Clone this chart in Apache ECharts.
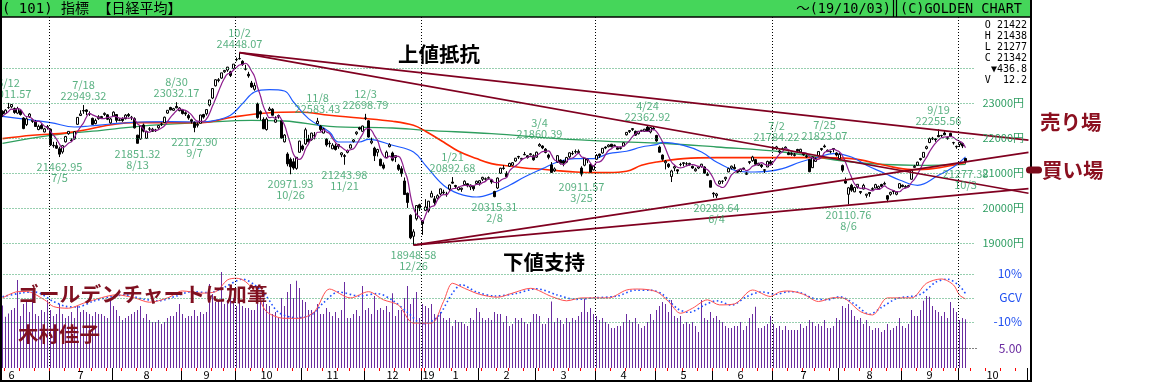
<!DOCTYPE html>
<html><head><meta charset="utf-8">
<script src="https://cdn.jsdelivr.net/npm/echarts/dist/echarts.min.js"></script>
<style>html,body{margin:0;padding:0;background:#fff}#c{width:1154px;height:387px}</style>
</head><body><div id="c"></div>
<script>
// ---------- DATA ----------
const monthDays = [
 ['2018-06',[8,11,12,13,14,15,18,19,20,21,22,25,26,27,28,29]],
 ['2018-07',[2,3,4,5,6,9,10,11,12,13,17,18,19,20,23,24,25,26,27,30,31]],
 ['2018-08',[1,2,3,6,7,8,9,10,13,14,15,16,17,20,21,22,23,24,27,28,29,30,31]],
 ['2018-09',[3,4,5,6,7,10,11,12,13,14,18,19,20,21,25,26,27,28]],
 ['2018-10',[1,2,3,4,5,9,10,11,12,15,16,17,18,19,22,23,24,25,26,29,30,31]],
 ['2018-11',[1,2,5,6,7,8,9,12,13,14,15,16,19,20,21,22,26,27,28,29,30]],
 ['2018-12',[3,4,5,6,7,10,11,12,13,14,17,18,19,20,21,25,26,27,28]],
 ['2019-01',[4,7,8,9,10,11,15,16,17,18,21,22,23,24,25,28,29,30,31]],
 ['2019-02',[1,4,5,6,7,8,12,13,14,15,18,19,20,21,22,25,26,27,28]],
 ['2019-03',[1,4,5,6,7,8,11,12,13,14,15,18,19,20,22,25,26,27,28,29]],
 ['2019-04',[1,2,3,4,5,8,9,10,11,12,15,16,17,18,19,22,23,24,25,26]],
 ['2019-05',[7,8,9,10,13,14,15,16,17,20,21,22,23,24,27,28,29,30,31]],
 ['2019-06',[3,4,5,6,7,10,11,12,13,14,17,18,19,20,21,24,25,26,27,28]],
 ['2019-07',[1,2,3,4,5,8,9,10,11,12,16,17,18,19,22,23,24,25,26,29,30,31]],
 ['2019-08',[1,2,5,6,7,8,9,13,14,15,16,19,20,21,22,23,26,27,28,29,30]],
 ['2019-09',[2,3,4,5,6,9,10,11,12,13,17,18,19,20,24,25,26,27,30]],
 ['2019-10',[1,2,3,4,7,8,9,10,11,14,15,16,17,18,21,22,23,24,25,28,29,30,31]],
 ['2019-11',[1]]
];
const open = [
 22770,22710,22880,22900,22850,22720,22790,22580,22390,22620,22480,22480,22250,22370,22180,22330,
 22260,21800,21790,21700,21610,21900,22130,21950,21980,22400,22650,22780,22810,22700,22570,22420,22560,22620,22680,22670,22440,
 22640,22680,22510,22560,22560,22680,22600,22560,22090,21980,22380,22000,22260,22260,22240,22300,22400,22450,22720,22880,22800,22910,22790,
 22810,22730,22650,22530,22450,22400,22430,22680,22700,22950,23150,23500,23650,23720,23900,23950,23900,23990,
 24250,24280,24200,23980,23830,23580,23400,22980,22760,22540,22250,22800,22830,22460,22650,22500,21900,21550,21400,21330,21140,21600,
 21780,21840,21980,21960,22070,22420,22350,22150,21970,21860,21700,21780,21760,21530,21480,21600,21720,21910,22130,22300,22200,
 22580,22500,21870,21720,21600,21400,21240,21450,21760,21580,21450,21230,21130,20780,20430,19800,19200,19700,20100,
 19650,19940,19930,20320,20270,20290,20410,20460,20400,20550,20750,20650,20530,20540,20680,20700,20610,20630,20710,
 20720,20830,20830,20860,20800,20480,20580,21000,21150,21000,21200,21230,21350,21480,21400,21540,21500,21530,21500,
 21460,21780,21780,21690,21520,21240,21070,21320,21380,21350,21320,21470,21560,21620,21590,21150,21230,21400,21250,21100,
 21400,21550,21580,21750,21760,21830,21790,21730,21730,21780,22100,22190,22250,22200,22130,22230,22200,22320,22180,22290,
 22080,21750,21520,21300,21260,20910,21150,21100,21250,21280,21270,21250,21200,21070,21150,21190,21180,20970,20790,
 20430,20360,20700,20770,20840,21040,21150,21170,21080,21050,21150,21010,21310,21360,21390,21230,21240,21100,21180,21330,
 21700,21710,21610,21690,21720,21580,21540,21510,21680,21610,21570,21480,21390,21160,21340,21500,21680,21780,21620,21620,21680,21580,
 21420,21220,20780,20400,20660,20470,20600,20480,20550,20370,20450,20540,20580,20560,20680,20690,20360,20400,20500,20400,20580,
 20660,20600,20620,20830,21170,21230,21420,21460,21710,21880,21980,21980,22080,22080,22150,21990,22140,21870,21770,
 21820,21850,21422
];
const high = [
 22800,22830,23011.57,22980,22880,22900,22820,22600,22600,22720,22560,22520,22390,22420,22300,22380,
 22280,21900,21900,21760,21810,22070,22200,22000,22200,22600,22800,22949.32,22830,22770,22590,22560,22660,22640,22740,22690,22580,
 22770,22690,22580,22600,22690,22720,22640,22600,22100,22360,22420,22220,22320,22300,22270,22380,22450,22620,22800,22900,22870,23032.17,22890,
 22840,22770,22700,22560,22480,22450,22670,22700,22830,23100,23430,23690,23720,23870,23950,24040,23930,24120,
 24306,24448.07,24230,24100,23900,23640,23590,23020,22800,22600,22600,22900,22860,22630,22680,22550,22120,21600,21450,21430,21460,21930,
 21820,22300,22100,22160,22180,22583.43,22380,22300,22000,21930,21860,21850,21840,21600,21550,21680,21840,21980,22200,22330,22360,
 22698.79,22520,22020,21760,21700,21420,21310,21650,21860,21620,21510,21270,21200,20880,20450,19830,19400,20080,20130,
 19660,20260,20210,20500,20350,20400,20560,20530,20470,20680,20892.68,20670,20620,20590,20800,20720,20680,20640,20790,
 20800,20900,20880,20910,20820,20500,20880,21160,21230,21060,21300,21320,21440,21500,21440,21610,21520,21580,21540,
 21620,21860.39,21800,21720,21560,21320,21170,21520,21400,21380,21470,21600,21640,21680,21680,21200,21430,21420,21290,21220,
 21550,21560,21720,21770,21830,21840,21820,21760,21760,21890,22180,22230,22290,22220,22210,22240,22270,22362.92,22320,22330,
 22100,21790,21540,21380,21290,21100,21230,21110,21300,21320,21320,21300,21220,21160,21200,21270,21200,21030,20810,
 20460,20440,20800,20800,20900,21160,21220,21260,21100,21130,21160,21030,21350,21500,21400,21300,21270,21120,21360,21380,
 21760,21784.22,21680,21740,21770,21620,21600,21580,21700,21700,21600,21540,21400,21480,21450,21630,21720,21823.07,21680,21650,21720,21600,
 21590,21250,20880,20610,20700,20620,20690,20490,20700,20410,20460,20600,20700,20650,20700,20760,20380,20470,20510,20480,20720,
 20680,20660,20670,21100,21240,21330,21440,21600,21790,22020,22040,22000,22255.56,22100,22220,22050,22160,21900,21790,
 21900,21860,21438
];
const low = [
 22605,22690,22840,22860,22700,22690,22650,22260,22350,22580,22440,22330,22230,22260,22170,22250,
 21780,21730,21700,21462.95,21560,21880,22100,21890,21960,22380,22640,22700,22660,22640,22380,22400,22530,22560,22640,22520,22420,
 22620,22450,22490,22470,22540,22600,22520,22280,21851.32,21960,22170,21990,22210,22190,22180,22270,22350,22440,22700,22800,22790,22860,22770,
 22680,22640,22530,22420,22172.90,22310,22420,22560,22650,22910,23120,23480,23600,23700,23870,23900,23750,23970,
 24200,24250,24070,23940,23730,23440,23360,22560,22520,22270,22220,22780,22650,22440,22560,21990,21880,21200,20971.93,21100,21100,21590,
 21640,21810,21880,21930,21970,22400,22200,22140,21760,21740,21690,21650,21700,21460,21243.98,21570,21710,21880,22090,22230,22190,
 22520,22020,21830,21350,21480,21200,21110,21440,21740,21340,21320,21070,20900,20390,20010,19117,18948.58,19650,19920,
 19241,19920,19880,20320,20100,20250,20370,20400,20330,20500,20700,20560,20510,20470,20660,20600,20520,20500,20690,
 20650,20780,20790,20830,20700,20315.31,20550,20980,21100,20880,21180,21210,21330,21410,21360,21520,21420,21510,21360,
 21440,21760,21690,21570,21400,21010,21040,21300,21250,21200,21290,21440,21520,21560,21570,20911.57,21200,21290,21030,21080,
 21380,21440,21560,21690,21740,21740,21760,21680,21680,21760,22080,22150,22210,22070,22110,22180,22190,22190,22140,22230,
 21900,21590,21360,21110,21150,20750,21060,20980,21200,21200,21200,21220,21130,21050,21120,21160,20990,20920,20600,
 20305,20289.64,20680,20700,20780,21030,21110,21110,21000,21030,21090,20950,21260,21330,21240,21220,21150,21010,21180,21240,
 21690,21670,21560,21670,21700,21520,21500,21480,21600,21600,21500,21440,21030,21150,21330,21480,21640,21730,21610,21570,21600,21480,
 21380,21030,20700,20110.76,20470,20460,20560,20405,20540,20300,20330,20510,20570,20550,20610,20670,20173,20360,20400,20370,20570,
 20600,20580,20600,20820,21160,21220,21360,21440,21680,21860,21950,21900,22030,22030,22090,21960,22040,21820,21700,
 21750,21720,21277.38
];
const close = [
 22695,22804,22878,22966,22739,22852,22680,22278,22555,22693,22517,22338,22342,22272,22270,22305,
 21812,21786,21717,21547,21788,22052,22197,21932,22188,22597,22698,22794,22765,22697,22397,22510,22614,22587,22713,22545,22554,
 22747,22513,22525,22507,22663,22644,22598,22298,21857,22356,22204,22192,22270,22199,22220,22363,22411,22602,22800,22813,22848,22870,22865,
 22707,22697,22581,22488,22307,22373,22665,22605,22821,23095,23421,23673,23675,23870,23940,24034,23797,24120,
 24246,24271,24111,23976,23784,23469,23506,22591,22695,22271,22549,22841,22658,22532,22615,22011,22091,21269,21185,21150,21457,21920,
 21688,22244,21899,22148,22086,22487,22250,22270,21811,21846,21804,21680,21821,21583,21508,21647,21812,21952,22177,22263,22351,
 22575,22036,21919,21502,21679,21220,21148,21603,21816,21375,21507,21115,20988,20393,20166,19156,19327,20078,20015,
 19562,20039,20204,20427,20164,20360,20555,20443,20402,20666,20719,20623,20594,20575,20774,20649,20665,20557,20773,
 20788,20884,20844,20874,20751,20333,20864,21144,21140,20901,21282,21303,21431,21464,21426,21528,21449,21557,21385,
 21603,21822,21726,21597,21456,21026,21125,21504,21290,21287,21451,21585,21567,21609,21627,20977,21428,21378,21034,21206,
 21509,21505,21713,21725,21808,21762,21803,21688,21711,21871,22169,22222,22278,22090,22200,22218,22260,22201,22308,22259,
 21924,21603,21402,21345,21191,21067,21189,21063,21250,21302,21272,21283,21151,21117,21183,21260,21003,20943,20601,
 20411,20409,20776,20774,20885,21134,21204,21130,21032,21117,21124,20973,21334,21463,21259,21286,21194,21087,21338,21276,
 21730,21754,21638,21702,21746,21534,21565,21533,21644,21686,21535,21469,21046,21467,21417,21621,21710,21757,21658,21617,21709,21522,
 21541,21087,20720,20585,20517,20593,20685,20455,20655,20406,20419,20563,20677,20619,20628,20711,20261,20456,20479,20461,20704,
 20620,20625,20649,21086,21200,21318,21392,21598,21760,21988,22001,21961,22044,22079,22099,22020,22048,21879,21756,
 21885,21778.61,21341.74
];
// closes of the four sessions before the first plotted day (for the 5-day average)
const priorCloses = [22475.94,22539.54,22625.73,22823.26];
// volume, 100 million shares
const volume = [
 15.6,12.8,13.6,14.5,15.0,22.0,13.0,16.0,16.5,14.0,19.0,13.5,13.0,14.5,14.0,17.0,
 14.5,13.0,13.5,16.0,13.5,12.5,13.0,14.0,12.5,15.5,14.0,14.5,14.0,13.5,13.0,14.0,13.5,13.5,13.0,12.5,17.5,
 15.5,14.5,13.0,12.0,12.5,13.0,13.5,14.0,14.5,15.5,12.5,13.5,12.0,11.5,11.5,12.0,11.0,11.5,12.5,13.0,13.0,14.0,16.0,
 13.5,12.5,13.0,13.0,14.5,13.0,14.0,13.5,14.0,21.0,18.5,16.5,17.0,24.0,16.0,17.0,19.5,17.5,
 15.5,16.5,15.5,15.0,15.0,14.5,14.5,20.5,18.0,17.5,16.0,15.5,13.5,14.0,12.5,17.5,15.5,19.0,21.0,17.5,21.8,20.0,
 17.0,16.5,14.5,14.5,14.0,16.0,13.5,13.5,15.0,14.0,13.0,14.0,12.5,14.5,21.5,12.5,12.5,13.5,14.5,13.0,20.5,
 14.5,15.0,13.5,18.0,14.5,15.0,14.5,15.5,14.0,18.7,13.0,14.5,14.5,17.5,20.5,16.0,17.5,19.0,12.5,
 16.0,15.5,15.0,16.0,13.5,13.0,14.0,12.5,12.0,12.5,10.5,12.0,11.5,11.5,11.0,10.5,12.5,12.0,15.0,
 14.0,12.5,12.0,12.5,12.0,14.0,13.5,13.5,11.5,13.0,10.5,11.0,12.5,12.0,12.5,11.5,11.0,11.5,13.5,
 13.5,13.0,11.0,11.0,12.5,16.6,11.5,12.5,12.0,11.0,12.5,11.5,12.5,12.0,13.0,14.0,17.4,14.0,15.0,13.5,
 13.0,12.0,12.5,11.5,11.0,10.0,10.0,10.5,10.5,11.5,13.5,12.0,11.5,12.5,11.0,10.0,10.5,11.5,13.5,12.0,
 14.5,15.5,16.5,16.0,14.0,17.0,13.0,12.5,13.0,11.0,11.5,11.0,11.5,10.5,9.0,17.0,12.5,12.0,14.0,
 12.5,13.0,12.0,11.5,10.5,10.0,10.0,10.5,10.5,11.5,9.5,10.5,12.5,13.5,15.3,10.0,10.0,10.5,11.0,13.0,
 11.0,10.0,10.5,9.5,10.5,9.5,9.5,9.5,9.5,11.0,10.0,10.5,12.0,11.5,10.5,11.0,10.5,12.0,10.0,10.0,10.5,12.5,
 12.0,15.5,15.0,16.0,14.5,13.0,12.0,12.5,11.0,12.0,10.5,9.5,10.0,10.0,9.0,9.5,11.0,9.5,10.0,10.5,12.5,
 10.5,10.0,11.0,14.5,13.0,13.0,14.5,16.8,18.0,17.8,15.5,14.5,14.0,13.0,14.0,12.5,16.5,15.0,14.0,
 12.0,12.5,12.2
];
// moving-average curves (trading-day number, value)
const ma25Day = [0,16,24,29,36,46,56,66,71,76,80,84,89,94,97,102,109,112,119,122,130,137,141,147,152,158,163,169,174,180,185,191,197,202,208,213,218,220,227,233,238,244,249,255,260,266,272,277,283,288,294,299,305,312,317,321];
const ma25Val = [22628,22449,22323,22351,22408,22466,22477,22466,22514,22657,22990,23323,23391,23351,23037,22563,22180,21894,21894,21971,21800,21609,21228,20657,20420,20323,20420,20657,20894,21134,21323,21420,21420,21563,21629,21752,21820,21883,21800,21609,21323,21086,21037,21057,21134,21323,21466,21563,21466,21228,21000,20809,20657,20943,21180,21470];
const ma75Day = [0,10,22,44,66,77,88,99,109,119,130,137,141,147,152,158,163,169,174,180,185,191,197,202,208,213,218,227,238,260,272,283,294,303,310,321];
const ma75Val = [21991,22086,22163,22449,22449,22609,22723,22751,22657,22580,22486,22371,22200,21894,21629,21420,21277,21209,21151,21114,21077,21037,21020,21020,21057,21228,21323,21420,21449,21449,21449,21420,21228,21106,21134,21311];
const ma200Day = [0,16,33,49,66,83,94,109,130,141,163,185,202,218,238,260,283,305,321];
const ma200Val = [21854,22086,22229,22371,22449,22514,22494,22343,22294,22229,22134,21991,21914,21866,21752,21609,21323,21228,21257];
// GCV oscillator (%)
const gcvDay = [0,5,8,14,17,22,27,33,38,44,49,55,60,66,71,75,78,81,85,88,94,99,104,109,116,122,127,132,137,143,147,150,154,159,165,170,176,183,188,193,202,208,212,218,222,226,230,235,239,244,250,256,259,262,267,272,277,280,286,290,295,303,308,313,317,319,321];
const gcvVal = [0,2.6,2.7,-0.8,-3.6,-4.3,-2.2,0.1,1.3,0,-1.8,0,2.9,2,2.6,7.5,8.2,6.8,1.3,-5.7,-8.5,-8.5,-5.7,3.7,0,2.6,-0.8,-3,-10.5,-10.5,-1.5,6.1,4,1.5,0.3,2,4,0.6,-1.2,0,0,3.3,3.7,2.6,-1.5,-6.4,-4.3,-0.8,-2.9,-2.5,3.3,0.6,2.5,2.9,1.5,-1.5,0.1,0,-5.7,-7.1,0,0,6.1,7.9,5.4,1.2,-0.4];
const gcvSigDay = [0,7,11,17,21,25,30,36,41,47,52,58,63,69,74,80,84,88,92,98,103,107,112,119,125,130,135,140,145,150,153,158,164,171,178,185,191,197,205,211,216,220,225,229,234,238,243,248,253,258,262,266,270,275,279,284,289,293,298,306,311,315,319,321];
const gcvSigVal = [0.5,2.2,2.4,-1.5,-3.5,-3.8,-1.5,0.5,1.2,-0.5,-1.2,0.8,2.6,2.2,4.5,7.8,5.5,0.5,-6,-8.3,-7,-2,2.5,0.8,1.8,-1,-6,-10.8,-8,2,5.5,2.5,0.8,1.8,3.8,1.2,-0.6,0,0.8,3.2,3.2,1.5,-4.5,-6,-3,-1.2,-3,0.5,2.5,1.5,2.6,2.2,0,-0.8,0.5,-2.5,-6.8,-4,-0.3,1.5,6.5,7.8,5,1.8];
// turning points
const peakDates = ['2018-06-12','2018-07-18','2018-08-30','2018-10-02','2018-11-08','2018-12-03','2019-01-21','2019-03-04','2019-04-24','2019-07-02','2019-07-25','2019-09-19'];
const peakValues = [23011.57,22949.32,23032.17,24448.07,22583.43,22698.79,20892.68,21860.39,22362.92,21784.22,21823.07,22255.56];
const troughDates = ['2018-07-05','2018-08-13','2018-09-07','2018-10-26','2018-11-21','2018-12-26','2019-02-08','2019-03-25','2019-06-04','2019-08-06','2019-10-03'];
const troughValues = [21462.95,21851.32,22172.90,20971.93,21243.98,18948.58,20315.31,20911.57,20289.64,20110.76,21277.38];
// hand-drawn trend lines (start / end)
const trendStartDates = ['2018-10-02','2018-10-02','2018-12-26','2018-12-26'];
const trendStartValues = [24448.07,24448.07,18948.58,18948.58];
const trendEndDates = ['2019-11-01','2019-11-01','2019-11-01','2019-11-01'];
const trendEndValues = [21950,20430,21600,20560];
const priceTicks = [19000,20000,21000,22000,23000,24000];
const priceTickLabels = ['19000円','20000円','21000円','22000円','23000円'];
const gcvTicks = [10,0,-10];
const gcvTickLabels = ['10%','GCV','-10%'];
const volTick = 5;
const volTickLabel = '5.00';

// ---------- BUILD ----------
const categories = [];
monthDays.forEach(([ym, days]) => days.forEach(d => categories.push(ym + '-' + String(d).padStart(2, '0'))));
const N = close.length;
const idxOf = d => categories.indexOf(d);
const md = d => (+d.slice(5, 7)) + '/' + (+d.slice(8, 10));

const monthStarts = [];
categories.forEach((c, i) => { if (i === 0 || categories[i - 1].slice(0, 7) !== c.slice(0, 7)) monthStarts.push(i); });
const quarterStarts = monthStarts.filter(i => i > 0 && [1, 4, 7, 10].includes(+categories[i].slice(5, 7)));
const weekStarts = [];
categories.forEach((c, i) => {
  if (i === 0) return;
  const d = new Date(c + 'T00:00:00Z'), p = new Date(categories[i - 1] + 'T00:00:00Z');
  if (d.getUTCDay() < p.getUTCDay() || (d - p) >= 7 * 864e5) weekStarts.push(i);
});
const monthLabels = [];  // [index, text]
monthStarts.forEach((s, k) => {
  const e = (k + 1 < monthStarts.length ? monthStarts[k + 1] : categories.length) - 1;
  if (e - s < 3) return;
  const m = String(+categories[s].slice(5, 7));
  const yearStart = s > 0 && categories[s].slice(0, 4) !== categories[s - 1].slice(0, 4);
  if (yearStart) { monthLabels.push([s + 2, categories[s].slice(2, 4)]); monthLabels.push([Math.floor((s + 4 + e) / 2), m]); }
  else if (s === 0) monthLabels.push([Math.floor((s + e) / 4), m]);   // partial first month
  else monthLabels.push([Math.floor((s + e) / 2), m]);
});

const candleData = close.map((c, i) => [open[i], c, low[i], high[i]]);
const allC = priorCloses.concat(close);
const ma5 = close.map((_, i) => { let s = 0; for (let k = i; k < i + 5; k++) s += allC[k]; return +(s / 5).toFixed(2); });
const pairs = (xs, ys) => xs.map((x, k) => [x, ys[k]]);

const GREEN_T = '#2f9e62', GRID_G = '#2e9e5e', MAROON = '#800020', BLUE_T = '#1f4ff0', PURPLE = '#6a2ca0';
const JP = '"Noto Sans CJK JP", sans-serif';
const MONO = '"DejaVu Sans Mono", "Noto Sans CJK JP", monospace';
const GRID_END = 324;   // last trading-day slot reached by the dotted grid lines

const chart = echarts.init(document.getElementById('c'), null, { renderer: 'canvas', width: 1154, height: 387 });

const xBase = (gi) => ({
  type: 'category', gridIndex: gi, data: categories, boundaryGap: true,
  axisLine: { show: false }, axisTick: { show: false }, axisLabel: { show: false }, splitLine: { show: false }
});

const option = {
  animation: false,
  backgroundColor: '#fff',
  grid: [
    { left: 1, top: 17, width: 1029, height: 249 },
    { left: 1, top: 266, width: 1029, height: 102 }
  ],
  xAxis: [xBase(0), xBase(1)],
  yAxis: [
    { type: 'value', gridIndex: 0, min: 18351, max: 25466, show: false },
    { type: 'value', gridIndex: 1, min: 0, max: 25.5, show: false },
    { type: 'value', gridIndex: 1, min: -29.2, max: 13.3, show: false }
  ],
  series: [
    { type: 'line', xAxisIndex: 0, yAxisIndex: 0, data: pairs(ma200Day, ma200Val), smooth: 0.4, showSymbol: false, silent: true, z: 2,
      lineStyle: { color: GRID_G, width: 1.3 } },
    { type: 'line', xAxisIndex: 0, yAxisIndex: 0, data: pairs(ma75Day, ma75Val), smooth: 0.4, showSymbol: false, silent: true, z: 2,
      lineStyle: { color: '#ff2a00', width: 1.6 } },
    { type: 'line', xAxisIndex: 0, yAxisIndex: 0, data: pairs(ma25Day, ma25Val), smooth: 0.4, showSymbol: false, silent: true, z: 2,
      lineStyle: { color: '#1e5aff', width: 1.2 } },
    { type: 'candlestick', xAxisIndex: 0, yAxisIndex: 0, data: candleData, barWidth: 3, silent: true, z: 3,
      itemStyle: { color: '#fff', color0: '#000', borderColor: '#000', borderColor0: '#000', borderWidth: 1 } },
    { type: 'line', xAxisIndex: 0, yAxisIndex: 0, data: ma5, smooth: 0.5, showSymbol: false, silent: true, z: 4,
      lineStyle: { color: '#8e1e8e', width: 1.2 } },
    ...trendStartDates.map((d, k) => ({
      type: 'line', xAxisIndex: 0, yAxisIndex: 0, showSymbol: false, silent: true, z: 6,
      data: [[idxOf(d), trendStartValues[k]], [idxOf(trendEndDates[k]), trendEndValues[k]]],
      lineStyle: { color: MAROON, width: 1.7 }
    })),
    { type: 'scatter', xAxisIndex: 0, yAxisIndex: 0, symbolSize: 1, silent: true, z: 8,
      itemStyle: { color: 'rgba(0,0,0,0)' },
      data: peakDates.map((d, k) => ({ value: [idxOf(d), peakValues[k]],
        label: { formatter: md(d) + '\n' + peakValues[k].toFixed(2) } })),
      label: { show: true, position: 'top', distance: 3, color: GREEN_T, fontFamily: JP, fontSize: 11, lineHeight: 11 } },
    { type: 'scatter', xAxisIndex: 0, yAxisIndex: 0, symbolSize: 1, silent: true, z: 8,
      itemStyle: { color: 'rgba(0,0,0,0)' },
      data: troughDates.map((d, k) => ({ value: [idxOf(d), troughValues[k]],
        label: { formatter: troughValues[k].toFixed(2) + '\n' + md(d) } })),
      label: { show: true, position: 'bottom', distance: 4, color: GREEN_T, fontFamily: JP, fontSize: 11, lineHeight: 11 } },
    { type: 'bar', xAxisIndex: 1, yAxisIndex: 1, data: volume, barWidth: 1, silent: true, z: 2,
      itemStyle: { color: PURPLE } },
    { type: 'line', xAxisIndex: 1, yAxisIndex: 2, data: pairs(gcvDay, gcvVal), smooth: 0.3, showSymbol: false, silent: true, z: 4,
      lineStyle: { color: '#ff5050', width: 1 } },
    { type: 'line', xAxisIndex: 1, yAxisIndex: 2, data: pairs(gcvSigDay, gcvSigVal), smooth: 0.3, showSymbol: false, silent: true, z: 3,
      lineStyle: { color: '#1e50ff', width: 1.6, type: [1.6, 2.6] } }
  ]
};
try { chart.setOption(option); } catch (e) { console.error('main option failed: ' + e.message); }

// ---------- GRAPHIC LAYER (positions from the chart's own scales) ----------
const Y = (axis, v) => chart.convertToPixel({ yAxisIndex: axis }, v);
const X = (i) => chart.convertToPixel({ xAxisIndex: 0 }, i);
const BAND = X(1) - X(0);
const edge = (i) => X(i) - BAND / 2;
const txt = (text, x, y, font, fill, align, z) => ({ type: 'text', x, y, z: z || 50, silent: true,
  style: { text, font, fill, textAlign: align || 'left', textVerticalAlign: 'middle' } });
const seg = (x1, y1, x2, y2, w, color, dash, z) => ({ type: 'line', z: z || 60, silent: true,
  shape: { x1, y1, x2, y2 }, style: { stroke: color || '#000', lineWidth: w, lineDash: dash || null } });

const yTop = 17, yPanel = 368, yBandBottom = 381;
const last = N - 1;
const lastDate = categories[last];
const chg = close[last] - close[last - 1];
const chgText = (chg < 0 ? '▼' : '▲') + (Math.floor(Math.abs(chg) * 10) / 10).toFixed(1);
const ohlcLines = ['O ' + Math.round(open[last]), 'H ' + Math.round(high[last]), 'L ' + Math.round(low[last]),
  'C ' + Math.round(close[last]), chgText, 'V  ' + volume[last].toFixed(1)];

const els = [];
const gridX0 = X(0), gridX1 = X(GRID_END);
// horizontal dotted grid lines
priceTicks.forEach(v => { const y = Math.round(Y(0, v)) + 0.5; els.push(seg(gridX0 - 2, y, gridX1, y, 1, GRID_G, [1, 2], 5)); });
gcvTicks.forEach(v => { const y = Math.round(Y(2, v)) + 0.5; els.push(seg(gridX0 - 2, y, gridX1, y, 1, GRID_G, [1, 2], 5)); });
{ const y = Math.round(Y(1, volTick)) + 0.5; els.push(seg(gridX0 - 2, y, gridX1 + 3, y, 1, '#000', [1, 2], 5)); }
// quarterly dotted verticals
quarterStarts.forEach(i => { const x = Math.round(edge(i)) + 0.5; els.push(seg(x, yTop, x, yPanel, 1, '#000', [1, 2], 5)); });
// bottom date band: month separators, weekly red ticks, month labels
monthStarts.filter(i => i > 0).forEach(i => { const x = Math.round(edge(i)) + 0.5; els.push(seg(x, yPanel, x, yBandBottom, 1, '#000')); });
weekStarts.forEach(i => { const x = Math.round(edge(i)) + 0.5; els.push(seg(x, yPanel, x, yPanel + 3, 1, '#ff0000')); });
monthLabels.forEach(([i, t]) => els.push(txt(t, X(i), 375, '11px ' + JP, '#000', 'center')));
// header
els.push({ type: 'rect', z: 55, silent: true, shape: { x: 0, y: 0, width: 1031, height: 17 }, style: { fill: '#45d65a' } });
els.push(txt('( 101) 指標 【日経平均】', 2, 9, '14px ' + MONO, '#000', 'left', 56));
els.push(txt('～(' + lastDate.slice(2).replace(/-/g, '/') + ')', 891, 9, '13.5px ' + MONO, '#000', 'right', 56));
els.push(txt('(C)GOLDEN CHART', 900, 9, '13.5px ' + MONO, '#000', 'left', 56));
els.push(seg(893.5, 0, 893.5, 17, 1.2), seg(896.5, 0, 896.5, 17, 1.2));
// frame
els.push(seg(0, 17, 1031, 17, 1.5), seg(1, 0, 1, 382, 2), seg(1031, 0, 1031, 382, 2), seg(0, 381, 1032, 381, 2));
// OHLC block
ohlcLines.forEach((t, k) => els.push(txt(t, 1027, 25 + k * 11, '10px ' + MONO, '#000', 'right')));
// axis value labels
const labX = gridX1 + 8;
priceTickLabels.forEach((t, k) => els.push(txt(t, labX, Y(0, priceTicks[k]), '11px ' + JP, GREEN_T)));
gcvTickLabels.forEach((t, k) => els.push(txt(t, 1022, Y(2, gcvTicks[k]), '12px ' + JP, BLUE_T, 'right')));
els.push(txt(volTickLabel, 1022, Y(1, volTick), '12px ' + JP, PURPLE, 'right'));
// annotations
els.push(txt('上値抵抗', 398, 54, 'bold 20.5px ' + JP, '#000'));
els.push(txt('下値支持', 503, 262, 'bold 20.5px ' + JP, '#000'));
els.push(txt('ゴールデンチャートに加筆', 18, 294, 'bold 20.8px ' + JP, '#7f1020'));
els.push(txt('木村佳子', 18, 334, 'bold 20.5px ' + JP, '#7f1020'));
els.push(txt('売り場', 1040, 122, 'bold 20.5px ' + JP, '#8b1020'));
els.push(txt('買い場', 1042, 170, 'bold 20.5px ' + JP, '#8b1020'));
els.push({ type: 'rect', z: 61, silent: true, shape: { x: 1026, y: 166.5, width: 16, height: 7, r: 3.5 }, style: { fill: '#7a0a1a' } });

try { chart.setOption({ graphic: { elements: els } }); } catch (e) { console.error('graphic failed: ' + e.message); }
</script>
</body></html>
